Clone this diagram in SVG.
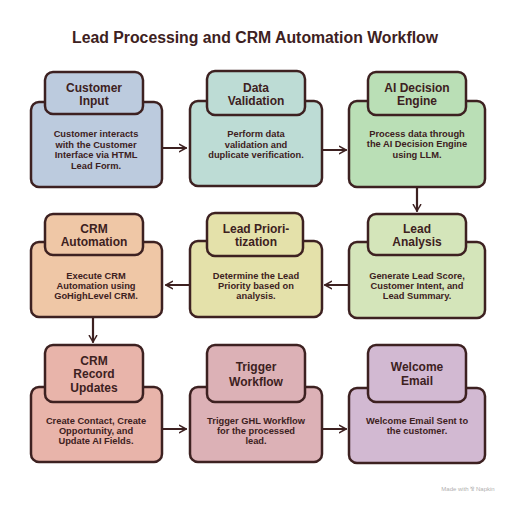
<svg xmlns="http://www.w3.org/2000/svg" width="512" height="505" viewBox="0 0 512 505">
<defs>
<style>
.box{stroke:#3d2121;stroke-width:2.5;stroke-linejoin:round}
.t{font-family:"Liberation Sans",Arial,sans-serif;font-weight:bold;fill:#3d2121;text-anchor:middle}
.h{font-size:12px}
.b{font-size:9.3px}
.c{stroke:#3d2121;stroke-width:2.2;fill:none;stroke-linecap:round}
</style>
<marker id="ah" viewBox="0 0 10 10" refX="8" refY="5" markerWidth="4.2" markerHeight="4.2" orient="auto" markerUnits="strokeWidth">
<path d="M1,1 L8,5 L1,9" fill="none" stroke="#3d2121" stroke-width="1.6" stroke-linecap="round" stroke-linejoin="round"/>
</marker>
</defs>
<rect width="512" height="505" fill="#ffffff"/>
<text class="t" x="255" y="43" font-size="15.8">Lead Processing and CRM Automation Workflow</text>

<g id="connectors">
<line class="c" x1="163" y1="148" x2="186" y2="148" marker-end="url(#ah)"/>
<line class="c" x1="323" y1="150" x2="346" y2="150" marker-end="url(#ah)"/>
<line class="c" x1="417" y1="188" x2="417" y2="211" marker-end="url(#ah)"/>
<line class="c" x1="348" y1="285" x2="325" y2="285" marker-end="url(#ah)"/>
<line class="c" x1="189" y1="285" x2="166" y2="285" marker-end="url(#ah)"/>
<line class="c" x1="93" y1="318" x2="93" y2="342" marker-end="url(#ah)"/>
<line class="c" x1="163" y1="429" x2="186" y2="429" marker-end="url(#ah)"/>
<line class="c" x1="323" y1="429" x2="346" y2="429" marker-end="url(#ah)"/>
</g>

<g id="customer-input">
<rect class="box" x="31" y="102" width="131" height="85" rx="8" fill="#bccbde"/>
<rect class="box" x="45" y="72" width="98" height="42" rx="8" fill="#bccbde"/>
<text class="t h" x="94" y="92">Customer</text>
<text class="t h" x="94" y="105">Input</text>
<text class="t b" x="96" y="137">Customer interacts</text>
<text class="t b" x="96" y="148">with the Customer</text>
<text class="t b" x="96" y="158">Interface via HTML</text>
<text class="t b" x="96" y="169">Lead Form.</text>
</g>

<g id="data-validation">
<rect class="box" x="190" y="101" width="132" height="85" rx="8" fill="#bddcd5"/>
<rect class="box" x="207" y="71" width="98" height="44" rx="8" fill="#bddcd5"/>
<text class="t h" x="256" y="92">Data</text>
<text class="t h" x="256" y="105">Validation</text>
<text class="t b" x="256" y="137">Perform data</text>
<text class="t b" x="256" y="148">validation and</text>
<text class="t b" x="256" y="158">duplicate verification.</text>
</g>

<g id="ai-decision-engine">
<rect class="box" x="349" y="101" width="136" height="86" rx="8" fill="#badfb6"/>
<rect class="box" x="368" y="72" width="98" height="43" rx="8" fill="#badfb6"/>
<text class="t h" x="417" y="92">AI Decision</text>
<text class="t h" x="417" y="105">Engine</text>
<text class="t b" x="417" y="137">Process data through</text>
<text class="t b" x="417" y="147">the AI Decision Engine</text>
<text class="t b" x="417" y="158">using LLM.</text>
</g>

<g id="lead-analysis">
<rect class="box" x="349" y="242" width="136" height="76" rx="8" fill="#d4e5ba"/>
<rect class="box" x="368" y="214" width="98" height="41" rx="8" fill="#d4e5ba"/>
<text class="t h" x="417" y="233">Lead</text>
<text class="t h" x="417" y="246">Analysis</text>
<text class="t b" x="417" y="279">Generate Lead Score,</text>
<text class="t b" x="417" y="289">Customer Intent, and</text>
<text class="t b" x="417" y="299">Lead Summary.</text>
</g>

<g id="lead-prioritization">
<rect class="box" x="190" y="241" width="132" height="76" rx="8" fill="#e4e1aa"/>
<rect class="box" x="207" y="213" width="96" height="43" rx="8" fill="#e4e1aa"/>
<text class="t h" x="256" y="233">Lead Priori-</text>
<text class="t h" x="256" y="246">tization</text>
<text class="t b" x="256" y="279">Determine the Lead</text>
<text class="t b" x="256" y="289">Priority based on</text>
<text class="t b" x="256" y="299">analysis.</text>
</g>

<g id="crm-automation">
<rect class="box" x="31" y="242" width="131" height="75" rx="8" fill="#efc7a6"/>
<rect class="box" x="45" y="214" width="98" height="41" rx="8" fill="#efc7a6"/>
<text class="t h" x="94" y="233">CRM</text>
<text class="t h" x="94" y="246">Automation</text>
<text class="t b" x="96" y="279">Execute CRM</text>
<text class="t b" x="96" y="289">Automation using</text>
<text class="t b" x="96" y="299">GoHighLevel CRM.</text>
</g>

<g id="crm-record-updates">
<rect class="box" x="31" y="387" width="131" height="75" rx="8" fill="#e8b4aa"/>
<rect class="box" x="45" y="345" width="98" height="57" rx="8" fill="#e8b4aa"/>
<text class="t h" x="94" y="365">CRM</text>
<text class="t h" x="94" y="378">Record</text>
<text class="t h" x="94" y="392">Updates</text>
<text class="t b" x="96" y="424">Create Contact, Create</text>
<text class="t b" x="96" y="434">Opportunity, and</text>
<text class="t b" x="96" y="444">Update AI Fields.</text>
</g>

<g id="trigger-workflow">
<rect class="box" x="190" y="387" width="132" height="75" rx="8" fill="#dcb1b6"/>
<rect class="box" x="207" y="345" width="98" height="57" rx="8" fill="#dcb1b6"/>
<text class="t h" x="256" y="371">Trigger</text>
<text class="t h" x="256" y="386">Workflow</text>
<text class="t b" x="256" y="424">Trigger GHL Workflow</text>
<text class="t b" x="256" y="434">for the processed</text>
<text class="t b" x="256" y="444">lead.</text>
</g>

<g id="welcome-email">
<rect class="box" x="349" y="388" width="136" height="75" rx="8" fill="#d2b9d2"/>
<rect class="box" x="368" y="345" width="98" height="57" rx="8" fill="#d2b9d2"/>
<text class="t h" x="417" y="371">Welcome</text>
<text class="t h" x="417" y="385">Email</text>
<text class="t b" x="417" y="424">Welcome Email Sent to</text>
<text class="t b" x="417" y="434">the customer.</text>
</g>

<text x="468" y="491" font-family="Liberation Sans,Arial,sans-serif" font-size="6" fill="#b0b0b0" text-anchor="middle">Made with ⅋ Napkin</text>
</svg>
